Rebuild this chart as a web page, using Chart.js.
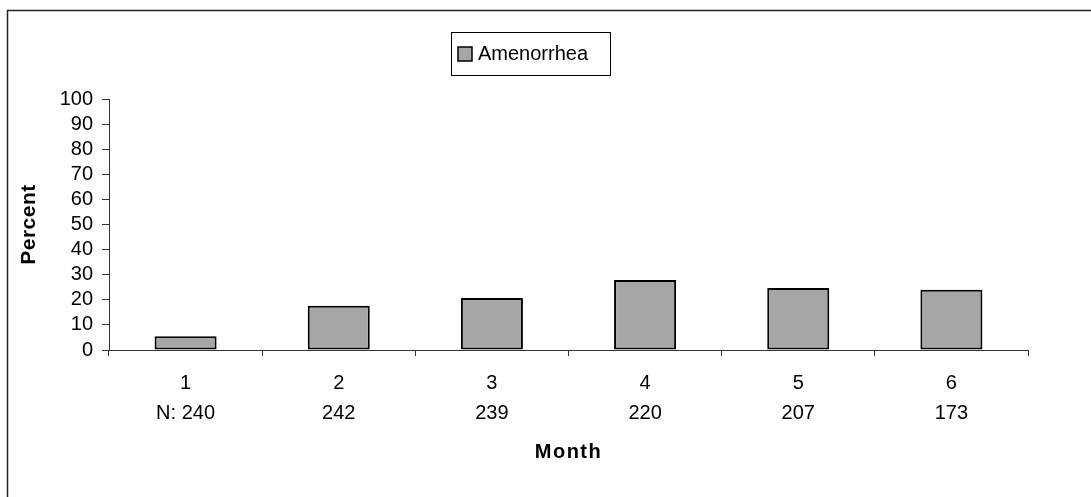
<!DOCTYPE html>
<html>
<head>
<meta charset="utf-8">
<script src="https://cdn.jsdelivr.net/npm/chart.js@4"></script>
<style>
  html, body { margin: 0; padding: 0; background: #fff; }
  canvas { display: block; }
</style>
</head>
<body>
<canvas id="chart" width="1091" height="497"></canvas>
<script>
// dữ liệu
var months = ['1', '2', '3', '4', '5', '6'];
var sampleSizes = ['N: 240', '242', '239', '220', '207', '173'];
var amenorrhea = [5.5, 17.6, 20.7, 27.9, 24.7, 24.0];
var yTicks = [0, 10, 20, 30, 40, 50, 60, 70, 80, 90, 100];

var labels = months.map(function(m, i) { return [m, sampleSizes[i]]; });

// khung viền ngoài
var framePlugin = {
    id: 'frame',
    afterDraw: function(chart) {
        var ctx = chart.ctx;
        ctx.save();
        ctx.strokeStyle = '#222';
        ctx.lineWidth = 1.5;
        ctx.beginPath();
        ctx.moveTo(7.5, chart.height + 2);
        ctx.lineTo(7.5, 10.5);
        ctx.lineTo(chart.width + 2, 10.5);
        ctx.stroke();
        ctx.restore();
    }
};

// giãn chữ cho tiêu đề trục
var titleSpacing = {
    id: 'titleSpacing',
    afterUpdate: function(chart) {
        [['x', '1.5px'], ['y', '0.5px']].forEach(function(p) {
            var s = chart.scales[p[0]];
            if (!s || s._spaced) return;
            var orig = s.drawTitle;
            s.drawTitle = function() {
                this.ctx.save();
                this.ctx.letterSpacing = p[1];
                orig.apply(this, arguments);
                this.ctx.restore();
            };
            s._spaced = true;
        });
    }
};

// chú thích có khung
var legendBox = {
    id: 'legendBox',
    afterDraw: function(chart) {
        var ctx = chart.ctx;
        var ds = chart.data.datasets[0];
        ctx.save();
        ctx.strokeStyle = '#000';
        ctx.lineWidth = 1;
        ctx.strokeRect(451.5, 32.5, 159, 43);
        ctx.fillStyle = ds.backgroundColor;
        ctx.fillRect(458, 47, 14, 14);
        ctx.lineWidth = 1.5;
        ctx.strokeRect(458, 47, 14, 14);
        ctx.fillStyle = '#000';
        ctx.font = '20px "Liberation Sans", Arial, sans-serif';
        ctx.textBaseline = 'middle';
        ctx.fillText(ds.label, 478, 54);
        ctx.restore();
    }
};

new Chart(document.getElementById('chart').getContext('2d'), {
    type: 'bar',
    data: {
        labels: labels,
        datasets: [{
            label: 'Amenorrhea',
            data: amenorrhea,
            backgroundColor: '#a6a6a6',
            borderColor: '#000',
            borderWidth: 2,
            borderSkipped: false,
            categoryPercentage: 1.0,
            barPercentage: 0.405
        }]
    },
    options: {
        responsive: false,
        animation: false,
        devicePixelRatio: 1,
        layout: { padding: { top: 99, right: 63, left: 0, bottom: 0 } },
        plugins: {
            legend: { display: false },
            tooltip: { enabled: false }
        },
        scales: {
            x: {
                offset: true,
                grid: { offset: true, drawOnChartArea: false, tickLength: 6, color: '#333' },
                border: { color: '#333', width: 1 },
                ticks: {
                    color: '#000',
                    padding: 12,
                    maxRotation: 0,
                    font: { family: '"Liberation Sans", Arial, sans-serif', size: 20, lineHeight: 1.5 }
                },
                title: {
                    display: true,
                    text: 'Month',
                    color: '#000',
                    font: { family: '"Liberation Sans", Arial, sans-serif', size: 20, weight: 'bold', lineHeight: 1.2 },
                    padding: { top: 0, bottom: 33 }
                },
                afterFit: function(scale) { scale.height = 147; }
            },
            y: {
                min: 0,
                max: 100,
                afterBuildTicks: function(scale) {
                    scale.ticks = yTicks.map(function(v) { return { value: v }; });
                },
                grid: { drawOnChartArea: false, tickLength: 7, color: '#333' },
                border: { color: '#333', width: 1 },
                ticks: {
                    color: '#000',
                    padding: 9,
                    autoSkip: false,
                    font: { family: '"Liberation Sans", Arial, sans-serif', size: 20 }
                },
                title: {
                    display: true,
                    text: 'Percent',
                    color: '#000',
                    font: { family: '"Liberation Sans", Arial, sans-serif', size: 21, weight: 'bold', lineHeight: 1.2 },
                    padding: { top: 17, bottom: 0 }
                },
                afterFit: function(scale) { scale.width = 109; }
            }
        }
    },
    plugins: [framePlugin, titleSpacing, legendBox]
});
</script>
</body>
</html>
